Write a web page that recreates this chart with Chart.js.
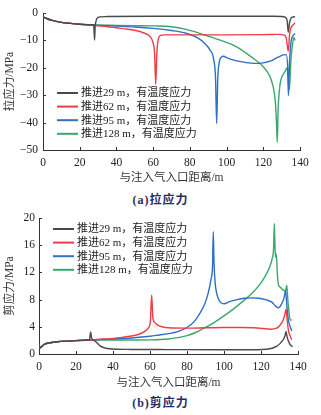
<!DOCTYPE html>
<html>
<head>
<meta charset="utf-8">
<script src="https://cdn.jsdelivr.net/npm/chart.js@4.4.1/dist/chart.umd.min.js"></script>
<style>
  html, body { margin: 0; padding: 0; background: #fff; }
  body { width: 321px; height: 415px; position: relative; overflow: hidden; }
  canvas { position: absolute; left: 0; }
  #cA { top: 0; }
  #cB { top: 205px; }
  .cap {
    position: absolute; left: 0; width: 321px; text-align: center;
    font: bold 12px "Liberation Serif", "Noto Sans CJK SC", serif;
    color: #1f2d6b; line-height: 14px; letter-spacing: 1px;
  }
</style>
</head>
<body>
<canvas id="cA" width="321" height="190"></canvas>
<div class="cap" style="top:193px">(a)拉应力</div>
<canvas id="cB" width="321" height="190"></canvas>
<div class="cap" style="top:396px">(b)剪应力</div>
<script>
// series labels and colours
const labels = ["推进29 m，有温度应力", "推进62 m，有温度应力", "推进95 m，有温度应力", "推进128 m，有温度应力"];
const colors = ["#4a4a4a", "#ee3d48", "#2f6fc4", "#3aa86c"];

// --- tensile stress (MPa) vs distance (m) ---
const xA29 = [0, 2, 5, 10, 15, 20, 25, 27.6, 28.1, 28.4, 28.8, 29.3, 30, 31, 35, 60, 100, 125, 130, 132, 133, 133.6, 134.2, 135, 136, 137.3];
const yA29 = [-1.4, -2.0, -2.7, -3.4, -3.8, -4.1, -4.3, -4.4, -9.9, -5, -3.2, -2.1, -1.6, -1.4, -1.3, -1.2, -1.2, -1.2, -1.3, -1.6, -2.8, -7.0, -4.0, -2, -1.5, -1.3];

const xA62 = [0, 2, 5, 10, 15, 20, 25, 30, 35, 40, 45, 50, 55, 58, 59.8, 60.8, 61.4, 62, 62.8, 64, 66, 70, 80, 100, 120, 128, 131, 132.5, 133.6, 134.3, 135, 136, 137.3];
const yA62 = [-1.4, -2.0, -2.7, -3.4, -3.8, -4.1, -4.4, -4.7, -5.0, -5.4, -5.8, -6.3, -7.3, -8.4, -10.5, -15, -26, -15, -9.5, -8.2, -8.0, -8.0, -8.0, -8.0, -7.9, -7.8, -8.0, -9, -14, -8, -5.5, -4.5, -3.6];

const xA95 = [0, 2, 5, 10, 15, 20, 25, 30, 40, 50, 60, 70, 78, 84, 88, 91, 93, 94, 94.6, 95.2, 96, 97, 98.5, 100, 105, 110, 115, 120, 124, 127, 129, 131, 132.5, 133.3, 133.7, 134.3, 135, 136, 137.3];
const yA95 = [-1.4, -2.0, -2.7, -3.4, -3.8, -4.1, -4.3, -4.5, -4.8, -5.1, -5.6, -6.4, -7.4, -9.0, -11, -13.5, -17, -24, -40.3, -24, -18, -16.2, -15.8, -16.3, -17.4, -18.0, -18.4, -18.2, -17.5, -16.5, -15.8, -15.3, -15.2, -20, -30.2, -18, -11, -8.5, -7.5];

const xA128 = [0, 2, 5, 10, 15, 20, 25, 30, 40, 50, 60, 70, 78, 87, 96, 105, 114, 120, 123.5, 125.4, 126.5, 127.2, 127.6, 128.1, 128.8, 129.4, 130.5, 131.8, 133.0, 133.6, 134.2, 135, 136, 136.7, 137.3];
const yA128 = [-1.4, -2.0, -2.7, -3.4, -3.8, -4.1, -4.3, -4.4, -4.5, -4.6, -4.7, -5.0, -6.0, -7.8, -9.8, -12.2, -16.3, -19.6, -23, -27, -32, -40, -47.2, -35, -28, -25, -22.8, -21.4, -20.0, -24, -28, -18, -11, -9, -10];

// --- shear stress (MPa) vs distance (m) ---
const xB29 = [0, 0.7, 1.5, 3, 6, 10, 15, 20, 25, 27.3, 27.9, 28.4, 29, 30, 31.5, 33, 35, 38, 42, 50, 70, 100, 118, 123, 126, 128.5, 130.5, 132, 133, 133.5, 134.2, 135.3, 136.3, 137.1];
const yB29 = [1.35, 0.9, 1.1, 1.45, 1.65, 1.8, 1.9, 1.97, 2.02, 2.1, 3.25, 2.4, 2.1, 1.95, 1.6, 1.2, 0.95, 0.78, 0.7, 0.67, 0.65, 0.63, 0.63, 0.7, 0.85, 1.15, 1.6, 2.1, 2.7, 3.3, 2.4, 1.6, 1.2, 1.1];

const xB62 = [0, 0.7, 1.5, 3, 6, 10, 15, 20, 25, 30, 35, 40, 45, 50, 54, 57, 59, 60.2, 60.9, 61.6, 62.7, 64.5, 66.5, 70, 80, 90, 100, 110, 116, 121, 125, 128.5, 130.5, 132, 133, 133.5, 134.1, 134.8, 135.7, 136.6];
const yB62 = [1.35, 0.9, 1.1, 1.45, 1.65, 1.8, 1.9, 1.97, 2.03, 2.1, 2.2, 2.3, 2.45, 2.65, 2.9, 3.3, 3.8, 4.8, 8.7, 5.2, 4.6, 4.2, 4.0, 3.85, 3.8, 3.85, 3.9, 3.9, 3.85, 3.75, 3.65, 3.8, 4.3, 5.0, 5.9, 6.6, 5.2, 3.5, 2.7, 2.1];

const xB95 = [0, 0.7, 1.5, 3, 6, 10, 15, 20, 25, 30, 40, 50, 60, 65, 70, 75, 80, 84, 87, 89.5, 91.5, 93, 93.8, 94.2, 94.6, 95.2, 96, 97, 98.5, 100, 103, 107, 111, 115, 119, 123, 126, 128, 129.5, 131, 132.5, 133.3, 134, 134.8, 135.8, 136.6];
const yB95 = [1.35, 0.9, 1.1, 1.45, 1.65, 1.8, 1.9, 1.97, 2.03, 2.1, 2.2, 2.35, 2.6, 2.8, 3.0, 3.3, 3.9, 4.8, 6.0, 7.3, 9.0, 11, 13, 18, 13.5, 10.5, 9.0, 8.1, 7.5, 7.4, 7.7, 8.0, 8.2, 8.25, 8.2, 7.95, 7.6, 7.0, 6.8, 7.3, 8.3, 9.4, 7.0, 5.0, 4.0, 3.4];

const xB128 = [0, 0.7, 1.5, 3, 6, 10, 15, 20, 25, 30, 40, 50, 60, 70, 75, 80, 85, 90, 95, 100, 105, 110, 115, 119, 122, 124.5, 126, 126.8, 127.2, 127.6, 127.9, 128.3, 128.8, 129.4, 130.5, 132, 133.3, 133.9, 134.5, 135.2, 135.8, 136.6];
const yB128 = [1.35, 0.9, 1.1, 1.45, 1.65, 1.8, 1.9, 1.97, 2.03, 2.05, 2.05, 2.05, 2.07, 2.2, 2.4, 2.7, 3.2, 3.9, 4.7, 5.6, 6.6, 7.7, 8.9, 10.1, 11.3, 12.7, 14.0, 15.5, 19.2, 15.5, 14.2, 14.7, 12, 10.2, 9.8, 9.4, 9.3, 10.1, 8.0, 6.0, 5.0, 5.0];

const xTicks = [0, 20, 40, 60, 80, 100, 120, 140];

const FONT = '"Liberation Serif", "Noto Sans CJK SC", serif';

function pts(xs, ys) {
  return xs.map((x, i) => ({ x: x, y: ys[i] }));
}

function makeSets(series) {
  return series.map((s, i) => ({
    label: labels[i],
    data: pts(s[0], s[1]),
    borderColor: colors[i],
    borderWidth: 1.4,
    pointRadius: 0,
    fill: false,
    cubicInterpolationMode: "monotone"
  }));
}

// inward tick marks + legend drawn inside the plot
const decor = {
  id: "decor",
  afterDraw(chart, args, opts) {
    const ctx = chart.ctx;
    const a = chart.chartArea;
    const sx = chart.scales.x, sy = chart.scales.y;
    ctx.save();
    ctx.strokeStyle = "#333";
    ctx.lineWidth = 1;
    ctx.beginPath();
    sx.ticks.forEach(t => {
      const px = Math.round(sx.getPixelForValue(t.value)) + 0.5;
      ctx.moveTo(px, a.bottom);
      ctx.lineTo(px, a.bottom - 3);
    });
    sy.ticks.forEach(t => {
      const py = Math.round(sy.getPixelForValue(t.value)) + 0.5;
      ctx.moveTo(a.left, py);
      ctx.lineTo(a.left + 3, py);
    });
    ctx.stroke();

    ctx.font = "11px " + FONT;
    ctx.textBaseline = "middle";
    ctx.fillStyle = "#222";
    chart.data.datasets.forEach((d, i) => {
      const y = a.top + opts.top + i * 13.6;
      ctx.strokeStyle = d.borderColor;
      ctx.lineWidth = 2;
      ctx.beginPath();
      ctx.moveTo(a.left + opts.left, y);
      ctx.lineTo(a.left + opts.left + 21, y);
      ctx.stroke();
      ctx.fillText(d.label, a.left + opts.left + 24, y + 0.5);
    });
    ctx.restore();
  }
};

function makeChart(id, sets, cfg) {
  return new Chart(document.getElementById(id), {
    type: "line",
    data: { datasets: sets },
    plugins: [decor],
    options: {
      responsive: false,
      animation: false,
      layout: { padding: { left: 0, right: cfg.right, top: 13, bottom: 0 } },
      plugins: {
        legend: { display: false },
        tooltip: { enabled: false },
        decor: { left: 14, top: cfg.legTop }
      },
      scales: {
        x: {
          type: "linear", min: 0, max: 140,
          afterBuildTicks: s => { s.ticks = xTicks.map(v => ({ value: v })); },
          afterFit: s => { s.height = cfg.xh; },
          grid: { display: false, drawTicks: false },
          border: { display: true, color: "#333", width: 1 },
          ticks: { color: "#222", padding: 6, font: { family: FONT, size: 11.5 } },
          title: {
            display: true, text: "与注入气入口距离/m", color: "#333",
            font: { family: FONT, size: 11.5 }, padding: { top: 0, bottom: 5 }
          }
        },
        y: {
          min: cfg.ymin, max: cfg.ymax,
          ticks: {
            stepSize: cfg.step, color: "#222", padding: cfg.ypad,
            font: { family: FONT, size: 11.5 },
            callback: v => v < 0 ? "\u2212" + Math.abs(v) : String(v)
          },
          afterFit: s => { s.width = cfg.left; },
          grid: { display: false, drawTicks: false },
          border: { display: true, color: "#333", width: 1 },
          title: {
            display: true, text: cfg.ytitle, color: "#333",
            font: { family: FONT, size: 11.5 }, padding: { top: 3, bottom: 0 }
          }
        }
      }
    }
  });
}

makeChart("cA", makeSets([[xA29, yA29], [xA62, yA62], [xA95, yA95], [xA128, yA128]]), {
  right: 21, left: 43, xh: 40, ymin: -50, ymax: 0, step: 10, ypad: 5,
  ytitle: "拉应力/MPa", legTop: 80
});

makeChart("cB", makeSets([[xB29, yB29], [xB62, yB62], [xB95, yB95], [xB128, yB128]]), {
  right: 23, left: 39, xh: 41, ymin: 0, ymax: 20, step: 4, ypad: 4,
  ytitle: "剪应力/MPa", legTop: 11
});
</script>
</body>
</html>
